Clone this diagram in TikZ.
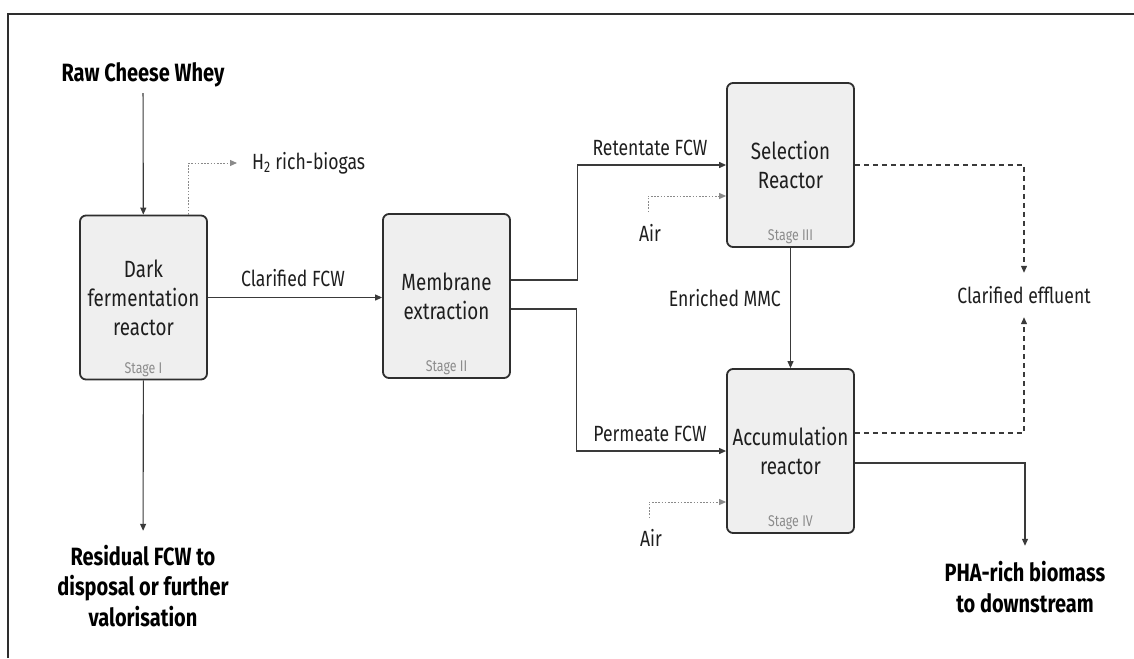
\documentclass[tikz,border=0pt]{standalone}
\usepackage{fontspec}
\setmainfont{Fira Sans}[FakeStretch=0.8]
\usetikzlibrary{arrows.meta}

\definecolor{boxfill}{HTML}{EFEFEF}
\definecolor{boxline}{HTML}{2E2E2E}
\definecolor{flowcol}{HTML}{3A3A3A}
\definecolor{gascol}{HTML}{8A8A8A}
\definecolor{stagecol}{HTML}{8C8C8C}
\definecolor{inkcol}{HTML}{1E1E1E}

\begin{document}
\begin{tikzpicture}[x=1pt,y=-1pt,
  reactor/.style={draw=boxline, fill=boxfill, line width=1.8pt,
    rounded corners=6pt, minimum width=127pt, minimum height=164pt,
    inner sep=0pt, align=center, text=inkcol,
    font=\fontsize{23.5}{29}\selectfont},
  stagelbl/.style={text=stagecol, inner sep=0pt,
    font=\fontsize{15.5}{17}\selectfont},
  lbl/.style={text=inkcol, inner sep=0pt, align=center,
    font=\fontsize{22}{26}\selectfont},
  endlbl/.style={text=black, inner sep=0pt, align=center,
    font=\fontsize{25}{30.5}\selectfont\bfseries},
  flow/.style={-{Triangle[length=7pt,width=6pt]}, line width=1.1pt, draw=flowcol},
  gas/.style={-{Triangle[length=7pt,width=6pt]}, line width=1pt, draw=gascol,
    dash pattern=on 1.6pt off 1.6pt},
  effl/.style={-{Triangle[length=7pt,width=6pt]}, line width=1.1pt, draw=flowcol,
    dash pattern=on 5pt off 4pt}
]
\useasboundingbox (0,0) rectangle (1134,658);

% outer frame
\draw[line width=2pt, draw=boxline] (8,658) -- (8,14) -- (1134,14);

% reactors
\node[reactor] (b1) at (143.5,297.5) {Dark\\fermentation\\reactor};
\node[reactor] (b2) at (446.5,296) {Membrane\\extraction};
\node[reactor] (b3) at (790.5,165) {Selection\\Reactor};
\node[reactor] (b4) at (790.5,451) {Accumulation\\reactor};

\node[stagelbl] (s1) at ([yshift=11pt]b1.south) {Stage I};
\node[stagelbl] (s2) at ([yshift=11pt]b2.south) {Stage II};
\node[stagelbl] (s3) at ([yshift=11pt]b3.south) {Stage III};
\node[stagelbl] (s4) at ([yshift=11pt]b4.south) {Stage IV};

% inputs and outputs
\node[endlbl, minimum height=36pt] (raw) at (143,75) {Raw Cheese Whey};
\node[endlbl, minimum height=110pt] (res) at (143,586)
  {Residual FCW to\\disposal or further\\valorisation};
\node[endlbl, minimum height=82pt] (pha) at (1025,587)
  {PHA-rich biomass\\to downstream};
\node[lbl, anchor=west] (h2) at (252,163) {H\textsubscript{2} rich-biogas};
\node[lbl, minimum height=44pt] (eff) at (1024,295) {Clarified effluent};
\node[lbl] (air3) at (650,233) {Air};
\node[lbl] (air4) at (651,538) {Air};

% stream labels
\node[lbl] (lclar) at (293,278) {Clarified FCW};
\node[lbl] (lret) at (650,148) {Retentate FCW};
\node[lbl] (lperm) at (650,434) {Permeate FCW};
\node[lbl, anchor=east] (lmmc) at (781,298) {Enriched MMC};

% main streams
\draw[flow] (raw) -- (b1);
\draw[flow] (b1.east) -- (b1.east -| b2.west);
\draw[flow] ([yshift=16pt]b2.east) -- ++(67,0) |- (b3.west);
\draw[flow] ([yshift=-13pt]b2.east) -- ++(66,0) |- (b4.west);
\draw[flow] (b3) -- (b4);
\draw[flow] (b1) -- (res);
\draw[flow] ([yshift=-12pt]b4.east) -| (pha.north);

% gas streams
\draw[gas] ([xshift=45pt]b1.north) |- ([xshift=-15pt]h2.west);
\draw[gas] ([xshift=-2pt,yshift=12pt]air3.north) |- ([yshift=-31pt]b3.west);
\draw[gas] ([xshift=-2pt,yshift=11pt]air4.north) |- ([yshift=-51pt]b4.west);

% effluent streams
\draw[effl] (b3.east) -| (eff.north);
\draw[effl] ([yshift=18pt]b4.east) -| (eff.south);
\end{tikzpicture}
\end{document}
